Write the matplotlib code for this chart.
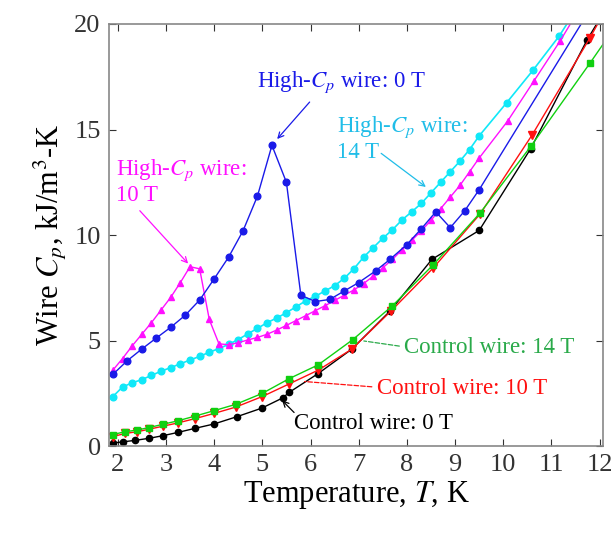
import numpy as np
import matplotlib
matplotlib.use('Agg')
import matplotlib.pyplot as plt

plt.rcParams['font.family'] = ['Liberation Serif', 'DejaVu Serif']
plt.rcParams['mathtext.fontset'] = 'stix'

# High-Cp wire, 0 T
hc0_T = [1.9, 2.2, 2.5, 2.8, 3.1, 3.4, 3.7, 4.0, 4.3, 4.6, 4.9, 5.2, 5.5, 5.8,
         6.1, 6.4, 6.7, 7.0, 7.35, 7.65, 8.0, 8.3, 8.6, 8.9, 9.2, 9.5, 11.75]
hc0_C = [3.4, 4.05, 4.6, 5.12, 5.63, 6.2, 6.92, 7.92, 8.95, 10.2, 11.85, 14.25, 12.5, 7.15,
         6.85, 6.95, 7.35, 7.75, 8.3, 8.85, 9.55, 10.3, 11.1, 10.35, 11.15, 12.15, 20.5]

# High-Cp wire, 10 T
hc10_T = [1.9, 2.1, 2.3, 2.5, 2.7, 2.9, 3.1, 3.3, 3.5, 3.7, 3.9, 4.1, 4.3, 4.5, 4.7,
          4.9, 5.1, 5.3, 5.5, 5.7, 5.9, 6.1, 6.3, 6.5, 6.7, 6.9, 7.1, 7.3, 7.5, 7.7,
          7.9, 8.1, 8.3, 8.5, 8.7, 8.9, 9.1, 9.3, 9.5, 10.09, 10.63, 11.18, 11.55]
hc10_C = [3.6, 4.15, 4.75, 5.3, 5.85, 6.45, 7.05, 7.75, 8.5, 8.4, 6.0, 4.85, 4.8, 4.9, 5.03,
          5.15, 5.3, 5.5, 5.72, 5.95, 6.18, 6.42, 6.65, 6.9, 7.15, 7.4, 7.7, 8.05, 8.45, 8.85,
          9.3, 9.75, 10.2, 10.7, 11.25, 11.8, 12.35, 13.0, 13.65, 15.4, 17.28, 19.2, 20.6]

# High-Cp wire, 14 T
hc14_T = [1.9, 2.1, 2.3, 2.5, 2.7, 2.9, 3.1, 3.3, 3.5, 3.7, 3.9, 4.1, 4.3, 4.5, 4.7,
          4.9, 5.1, 5.3, 5.5, 5.7, 5.9, 6.1, 6.3, 6.5, 6.7, 6.9, 7.1, 7.3, 7.5, 7.7,
          7.9, 8.1, 8.3, 8.5, 8.7, 8.9, 9.1, 9.3, 9.5, 10.07, 10.62, 11.16, 11.6]
hc14_C = [2.35, 2.8, 3.0, 3.15, 3.35, 3.55, 3.72, 3.9, 4.08, 4.25, 4.45, 4.62, 4.82, 5.05, 5.32,
          5.58, 5.85, 6.07, 6.32, 6.6, 6.88, 7.1, 7.35, 7.6, 7.95, 8.4, 8.95, 9.4, 9.85, 10.25,
          10.72, 11.1, 11.5, 12.0, 12.5, 13.0, 13.5, 14.05, 14.7, 16.27, 17.82, 19.43, 21.0]

# Control wire, 0 T
c0_T = [1.9, 2.1, 2.35, 2.65, 2.95, 3.25, 3.6, 4.0, 4.48, 4.99, 5.42, 5.56, 6.16, 6.86,
        7.65, 8.52, 9.5, 10.57, 11.74, 12.2]
c0_C = [0.15, 0.2, 0.27, 0.37, 0.5, 0.65, 0.84, 1.05, 1.4, 1.8, 2.28, 2.55, 3.44, 4.6,
        6.4, 8.85, 10.22, 14.1, 19.25, 21.0]

# Control wire, 10 T
c10_T = [1.9, 2.15, 2.4, 2.65, 2.95, 3.25, 3.6, 4.0, 4.45, 5.0, 5.56, 6.16, 6.86,
         7.67, 8.55, 9.52, 10.6, 11.8, 12.2]
c10_C = [0.45, 0.6, 0.68, 0.8, 0.95, 1.1, 1.3, 1.55, 1.85, 2.35, 2.95, 3.6, 4.6,
         6.4, 8.45, 11.0, 14.75, 19.35, 21.0]

# Control wire, 14 T
c14_T = [1.9, 2.15, 2.4, 2.65, 2.95, 3.25, 3.6, 4.0, 4.45, 5.0, 5.56, 6.16, 6.88,
         7.7, 8.55, 9.52, 10.57, 11.8, 12.3]
c14_C = [0.55, 0.68, 0.76, 0.88, 1.04, 1.2, 1.42, 1.68, 1.98, 2.5, 3.2, 3.85, 5.05,
         6.65, 8.6, 11.05, 14.2, 18.15, 19.8]

fig = plt.figure(figsize=(6.16, 5.33), dpi=100)
ax = fig.add_axes([0.177, 0.163, 0.802, 0.792])

ax.plot(c0_T, c0_C, '-o', color='black', ms=4.5, lw=1)
ax.plot(c10_T, c10_C, '-v', color='#ff1010', ms=5.5, lw=1)
ax.plot(c14_T, c14_C, '-s', color='#10d010', ms=5, lw=1)
ax.plot(hc14_T, hc14_C, '-o', color='#10e8f8', ms=4.8, lw=1.2)
ax.plot(hc10_T, hc10_C, '-^', color='#ff10ff', ms=5, lw=1)
ax.plot(hc0_T, hc0_C, '-o', color='#1a1ae8', ms=4.8, lw=1)

fs = 16.5
ax.text(4.9, 17.25, 'High-$C_p$ wire: 0 T', color='#1a1ae8', fontsize=fs, va='center')
ax.annotate('', xy=(5.27, 14.45), xytext=(6.02, 16.4),
            arrowprops=dict(arrowstyle='->', color='#1a1ae8', lw=0.9))
ax.text(6.55, 14.55, 'High-$C_p$ wire:\n14 T', color='#20bde8', fontsize=fs,
        va='center', linespacing=1.1)
ax.annotate('', xy=(8.44, 12.2), xytext=(7.42, 13.95),
            arrowprops=dict(arrowstyle='->', color='#20bde8', lw=0.9))
ax.text(1.97, 12.52, 'High-$C_p$ wire:\n10 T', color='#ff10ff', fontsize=fs,
        va='center', linespacing=1.1)
ax.annotate('', xy=(3.5, 8.55), xytext=(2.42, 11.25),
            arrowprops=dict(arrowstyle='->', color='#ff10ff', lw=0.9))

ax.text(7.95, 4.68, 'Control wire: 14 T', color='#2aaa4a', fontsize=fs, va='center')
ax.annotate('', xy=(7.05, 5.0), xytext=(7.9, 4.72),
            arrowprops=dict(arrowstyle='-', color='#2aaa4a', lw=0.9, linestyle='--'))
ax.text(7.38, 2.75, 'Control wire: 10 T', color='#ff1010', fontsize=fs, va='center')
ax.annotate('', xy=(5.82, 3.07), xytext=(7.33, 2.8),
            arrowprops=dict(arrowstyle='-', color='#ff1010', lw=0.9, linestyle='--'))
ax.text(5.66, 1.05, 'Control wire: 0 T', color='black', fontsize=fs, va='center')
ax.annotate('', xy=(5.37, 2.26), xytext=(5.7, 1.5),
            arrowprops=dict(arrowstyle='->', color='black', lw=0.9))

ax.set_xlim(1.82, 12.07)
ax.set_ylim(0, 20)
ax.set_xticks(range(2, 13))
ax.set_yticks([0, 5, 10, 15, 20])
ax.tick_params(direction='in', top=True, right=True, length=5, labelsize=19,
               colors='#333333', pad=6)
for s in ax.spines.values():
    s.set_color('#888888')
    s.set_linewidth(1.2)

ax.set_xlabel('Temperature, $T$, K', fontsize=22, labelpad=2)
ax.set_ylabel('Wire $C_p$, kJ/m$^3$-K', fontsize=22, labelpad=4)

fig.savefig('out.png', dpi=100)
